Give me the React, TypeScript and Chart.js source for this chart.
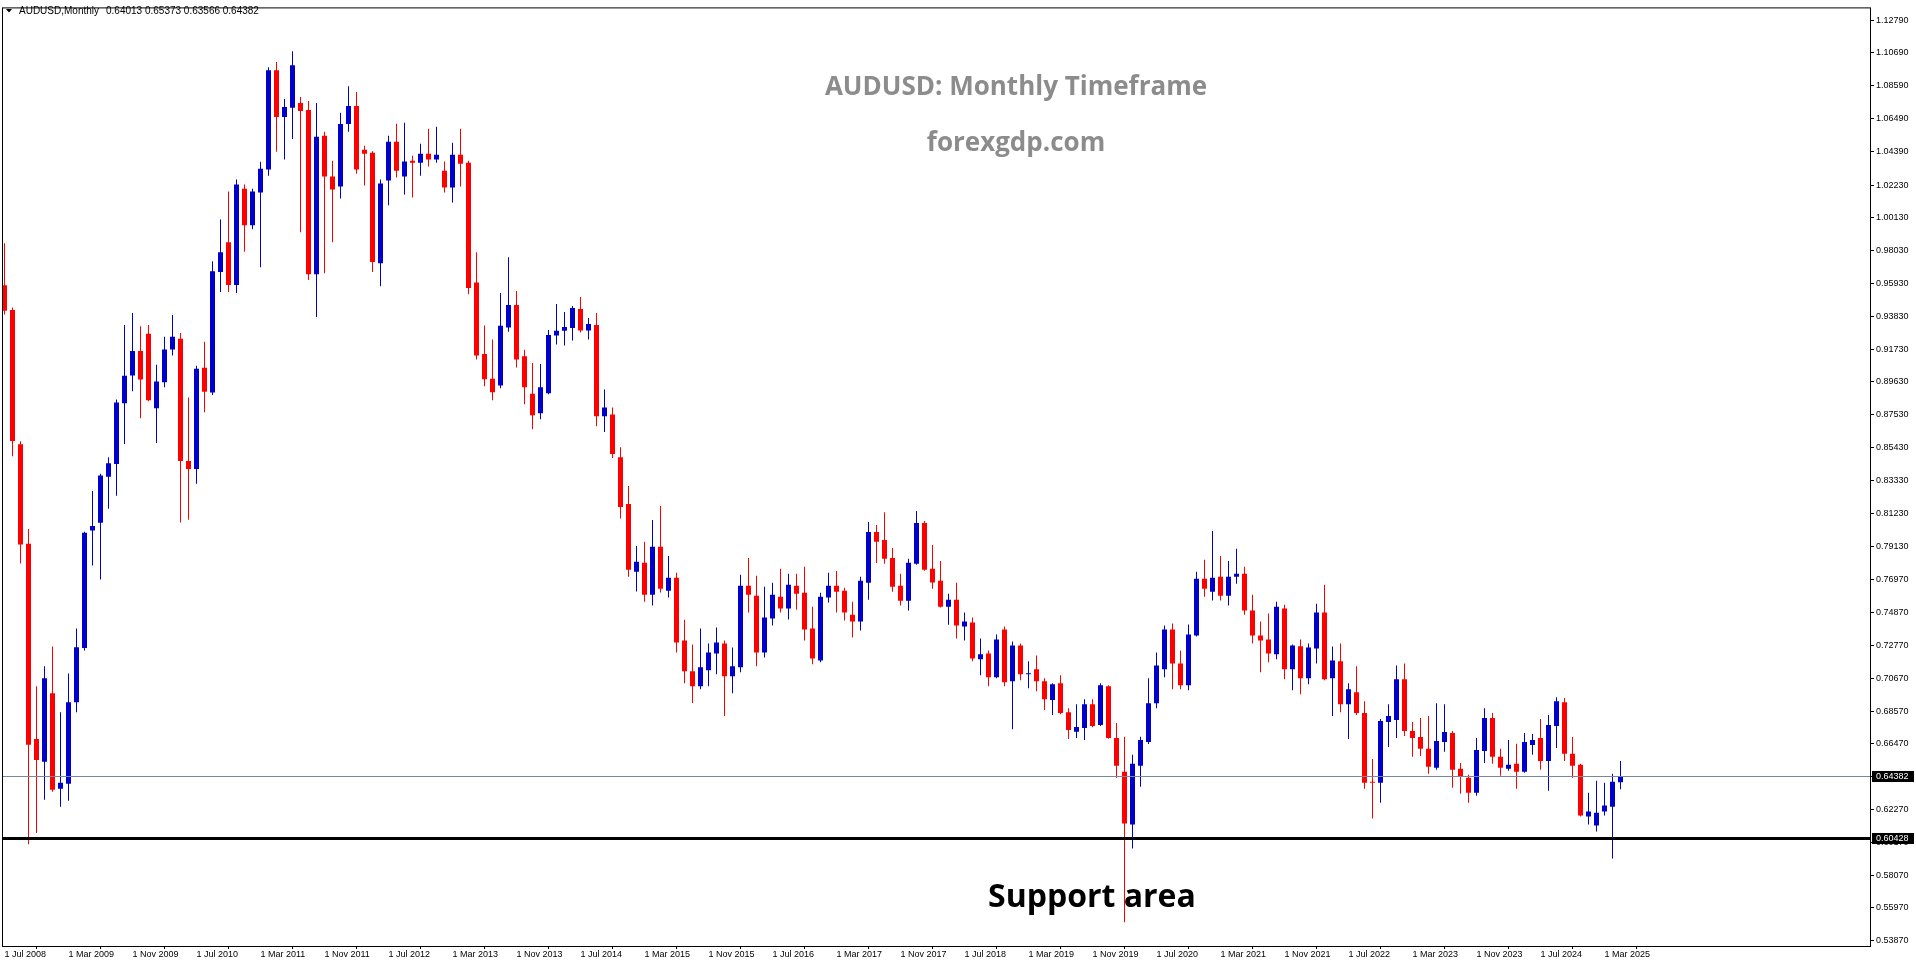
import React, { useEffect, useRef } from "react";
import { Chart, registerables } from "chart.js";

Chart.register(...registerables);

// Monthly candles, first = Jul 2008, last = May 2025
const OPEN = [
  0.9582, 0.9424, 0.8564, 0.7927, 0.6678, 0.6532, 0.6971, 0.6360, 0.6392, 0.6914,
  0.7260, 0.8013, 0.8062, 0.8356, 0.8438, 0.8827, 0.9004, 0.9161, 0.9271, 0.8795,
  0.8961, 0.9171, 0.9239, 0.8457, 0.8406, 0.9054, 0.8895, 0.9666, 0.9857, 0.9583,
  1.0200, 0.9966, 1.0175, 1.0322, 1.0958, 1.0659, 1.0717, 1.0748, 1.0704, 0.9653,
  1.0538, 1.0277, 1.0213, 1.0614, 1.0729, 1.0449, 1.0430, 0.9723, 1.0252, 1.0500,
  1.0277, 1.0379, 1.0366, 1.0424, 1.0386, 1.0315, 1.0207, 1.0417, 1.0366, 0.9600,
  0.9142, 0.8984, 0.8941, 0.9311, 0.9455, 0.9128, 0.8888, 0.8763, 0.8890, 0.9261,
  0.9290, 0.9309, 0.9430, 0.9292, 0.9328, 0.8744, 0.8755, 0.8481, 0.8182, 0.7749,
  0.7806, 0.7602, 0.7908, 0.7627, 0.7710, 0.7308, 0.7111, 0.7016, 0.7118, 0.7226,
  0.7290, 0.7080, 0.7137, 0.7659, 0.7595, 0.7232, 0.7449, 0.7589, 0.7513, 0.7659,
  0.7614, 0.7385, 0.7181, 0.7583, 0.7659, 0.7627, 0.7474, 0.7430, 0.7678, 0.8003,
  0.7952, 0.7837, 0.7659, 0.7563, 0.7799, 0.8060, 0.7768, 0.7691, 0.7525, 0.7570,
  0.7398, 0.7423, 0.7188, 0.7226, 0.7073, 0.7379, 0.7047, 0.7277, 0.7092, 0.7124,
  0.7047, 0.6927, 0.7035, 0.6850, 0.6724, 0.6748, 0.6901, 0.6767, 0.7016, 0.6684,
  0.6469, 0.6131, 0.6507, 0.6659, 0.6907, 0.7124, 0.7379, 0.7162, 0.7022, 0.7341,
  0.7704, 0.7621, 0.7716, 0.7595, 0.7716, 0.7735, 0.7500, 0.7341, 0.7315, 0.7220,
  0.7513, 0.7124, 0.7271, 0.7067, 0.7258, 0.7487, 0.7067, 0.7175, 0.6901, 0.6978,
  0.6844, 0.6404, 0.6398, 0.6787, 0.6799, 0.7060, 0.6729, 0.6691, 0.6615, 0.6494,
  0.6659, 0.6716, 0.6487, 0.6430, 0.6334, 0.6602, 0.6812, 0.6564, 0.6487, 0.6519,
  0.6468, 0.6640, 0.6685, 0.6538, 0.6761, 0.6914, 0.6583, 0.6513, 0.6182, 0.6124,
  0.6214, 0.6245, 0.64013,
];

const HIGH = [
  0.9850, 0.9440, 0.8583, 0.8022, 0.7015, 0.7143, 0.7270, 0.6850, 0.7097, 0.7386,
  0.8005, 0.8265, 0.8375, 0.8481, 0.8850, 0.9328, 0.9404, 0.9320, 0.9328, 0.9073,
  0.9252, 0.9392, 0.9277, 0.8863, 0.9067, 0.9220, 0.9736, 1.0003, 1.0181, 1.0258,
  1.0226, 1.0200, 1.0372, 1.0977, 1.1010, 1.0774, 1.1079, 1.0787, 1.0761, 1.0748,
  1.0564, 1.0379, 1.0685, 1.0856, 1.0818, 1.0475, 1.0440, 1.0258, 1.0538, 1.0615,
  1.0621, 1.0411, 1.0488, 1.0583, 1.0596, 1.0373, 1.0494, 1.0583, 1.0379, 0.9793,
  0.9324, 0.9235, 0.9532, 0.9761, 0.9545, 0.9169, 0.9085, 0.9078, 0.9296, 0.9462,
  0.9411, 0.9449, 0.9506, 0.9372, 0.9404, 0.8914, 0.8799, 0.8545, 0.8297, 0.7914,
  0.7940, 0.8080, 0.8169, 0.7850, 0.7742, 0.7442, 0.7283, 0.7385, 0.7289, 0.7391,
  0.7309, 0.7264, 0.7729, 0.7837, 0.7723, 0.7653, 0.7678, 0.7767, 0.7735, 0.7735,
  0.7780, 0.7525, 0.7614, 0.7742, 0.7754, 0.7646, 0.7557, 0.7716, 0.8067, 0.8048,
  0.8130, 0.7901, 0.7735, 0.7831, 0.8137, 0.8073, 0.7920, 0.7818, 0.7608, 0.7678,
  0.7487, 0.7455, 0.7322, 0.7245, 0.7347, 0.7398, 0.7302, 0.7290, 0.7175, 0.7213,
  0.7067, 0.7035, 0.7086, 0.6875, 0.6901, 0.6933, 0.6933, 0.7035, 0.7022, 0.6780,
  0.6692, 0.6577, 0.6692, 0.7067, 0.7232, 0.7404, 0.7417, 0.7245, 0.7411, 0.7748,
  0.7825, 0.8010, 0.7850, 0.7818, 0.7895, 0.7780, 0.7602, 0.7430, 0.7481, 0.7557,
  0.7538, 0.7283, 0.7315, 0.7290, 0.7544, 0.7666, 0.7270, 0.7290, 0.7035, 0.7143,
  0.6920, 0.6550, 0.6806, 0.6901, 0.7149, 0.7162, 0.6787, 0.6812, 0.6825, 0.6907,
  0.6901, 0.6729, 0.6525, 0.6449, 0.6684, 0.6875, 0.6844, 0.6615, 0.6672, 0.6647,
  0.6716, 0.6710, 0.6806, 0.6831, 0.6946, 0.6940, 0.6691, 0.6519, 0.6334, 0.6411,
  0.6398, 0.6455, 0.65373,
];

const LOW = [
  0.9394, 0.8487, 0.7802, 0.6004, 0.6076, 0.6290, 0.6341, 0.6245, 0.6283, 0.6850,
  0.7245, 0.7788, 0.7699, 0.8152, 0.8234, 0.8566, 0.8903, 0.8731, 0.8840, 0.8572,
  0.8929, 0.9132, 0.8063, 0.8082, 0.8311, 0.8769, 0.8880, 0.9538, 0.9538, 0.9532,
  0.9797, 0.9940, 0.9697, 1.0283, 1.0436, 1.0386, 1.0518, 0.9921, 0.9615, 0.9379,
  0.9659, 0.9857, 1.0137, 1.0564, 1.0296, 1.0220, 0.9666, 0.9576, 1.0093, 1.0271,
  1.0162, 1.0143, 1.0283, 1.0341, 1.0366, 1.0175, 1.0111, 1.0213, 0.9525, 0.9107,
  0.8935, 0.8846, 0.8922, 0.9285, 0.9056, 0.8821, 0.8661, 0.8725, 0.8885, 0.9203,
  0.9197, 0.9229, 0.9279, 0.9235, 0.8680, 0.8642, 0.8476, 0.8090, 0.7717, 0.7622,
  0.7557, 0.7532, 0.7615, 0.7583, 0.7232, 0.7035, 0.6908, 0.6997, 0.7016, 0.7092,
  0.6826, 0.6971, 0.7105, 0.7487, 0.7143, 0.7200, 0.7404, 0.7487, 0.7443, 0.7506,
  0.7309, 0.7156, 0.7170, 0.7551, 0.7487, 0.7436, 0.7328, 0.7373, 0.7570, 0.7805,
  0.7799, 0.7621, 0.7532, 0.7500, 0.7793, 0.7755, 0.7640, 0.7520, 0.7410, 0.7321,
  0.7309, 0.7175, 0.7086, 0.7016, 0.7067, 0.7016, 0.6741, 0.7054, 0.7003, 0.6984,
  0.6863, 0.6831, 0.6837, 0.6678, 0.6684, 0.6672, 0.6754, 0.6761, 0.6680, 0.6430,
  0.5506, 0.5978, 0.6373, 0.6646, 0.6875, 0.7073, 0.6996, 0.6996, 0.6990, 0.7334,
  0.7589, 0.7564, 0.7564, 0.7532, 0.7672, 0.7474, 0.7290, 0.7105, 0.7169, 0.7188,
  0.7060, 0.6990, 0.6965, 0.7028, 0.7162, 0.7054, 0.6826, 0.6850, 0.6678, 0.6831,
  0.6360, 0.6169, 0.6271, 0.6627, 0.6684, 0.6697, 0.6564, 0.6570, 0.6455, 0.6481,
  0.6596, 0.6366, 0.6328, 0.6270, 0.6315, 0.6525, 0.6519, 0.6443, 0.6475, 0.6360,
  0.6462, 0.6577, 0.6481, 0.6347, 0.6621, 0.6538, 0.6430, 0.6182, 0.6131, 0.6086,
  0.6188, 0.5914, 0.63566,
];

const CLOSE = [
  0.9419, 0.8585, 0.7923, 0.6641, 0.6544, 0.7067, 0.6354, 0.6398, 0.6914, 0.7265,
  0.7998, 0.8041, 0.8365, 0.8443, 0.8831, 0.9002, 0.9161, 0.8978, 0.8846, 0.8966,
  0.9170, 0.9252, 0.8457, 0.8406, 0.9048, 0.8901, 0.9672, 0.9793, 0.9583, 1.0226,
  0.9966, 1.0181, 1.0328, 1.0958, 1.0659, 1.0723, 1.0990, 1.0697, 0.9653, 1.0532,
  1.0277, 1.0194, 1.0614, 1.0729, 1.0322, 1.0424, 0.9730, 1.0233, 1.0500, 1.0315,
  1.0373, 1.0366, 1.0424, 1.0386, 1.0417, 1.0207, 1.0417, 1.0360, 0.9564, 0.9133,
  0.8980, 0.8897, 0.9322, 0.9455, 0.9106, 0.8929, 0.8750, 0.8929, 0.9264, 0.9290,
  0.9315, 0.9436, 0.9292, 0.9334, 0.8744, 0.8799, 0.8502, 0.8163, 0.7762, 0.7813,
  0.7602, 0.7908, 0.7640, 0.7710, 0.7296, 0.7111, 0.7016, 0.7137, 0.7232, 0.7296,
  0.7080, 0.7143, 0.7659, 0.7602, 0.7232, 0.7455, 0.7602, 0.7513, 0.7665, 0.7608,
  0.7379, 0.7194, 0.7589, 0.7659, 0.7621, 0.7487, 0.7430, 0.7691, 0.8003, 0.7940,
  0.7831, 0.7653, 0.7563, 0.7806, 0.8060, 0.7762, 0.7679, 0.7525, 0.7570, 0.7404,
  0.7430, 0.7194, 0.7220, 0.7073, 0.7315, 0.7041, 0.7277, 0.7092, 0.7098, 0.7047,
  0.6933, 0.7028, 0.6844, 0.6735, 0.6755, 0.6901, 0.6761, 0.7022, 0.6684, 0.6507,
  0.6137, 0.6519, 0.6672, 0.6907, 0.7149, 0.7379, 0.7162, 0.7022, 0.7347, 0.7704,
  0.7640, 0.7710, 0.7595, 0.7716, 0.7735, 0.7500, 0.7341, 0.7309, 0.7226, 0.7525,
  0.7124, 0.7277, 0.7067, 0.7264, 0.7487, 0.7060, 0.7181, 0.6901, 0.6997, 0.6844,
  0.6398, 0.6398, 0.6793, 0.6825, 0.7060, 0.6729, 0.6684, 0.6615, 0.6500, 0.6666,
  0.6723, 0.6481, 0.6436, 0.6334, 0.6608, 0.6812, 0.6564, 0.6494, 0.6513, 0.6468,
  0.6659, 0.6672, 0.6538, 0.6767, 0.6920, 0.6583, 0.6507, 0.6188, 0.6214, 0.6207,
  0.6252, 0.6405, 0.64382,
];

// x-axis labels, one every 8 monthly bars from the first bar
const X_TICK_LABELS = [
  "1 Jul 2008", "1 Mar 2009", "1 Nov 2009", "1 Jul 2010", "1 Mar 2011", "1 Nov 2011",
  "1 Jul 2012", "1 Mar 2013", "1 Nov 2013", "1 Jul 2014", "1 Mar 2015", "1 Nov 2015",
  "1 Jul 2016", "1 Mar 2017", "1 Nov 2017", "1 Jul 2018", "1 Mar 2019", "1 Nov 2019",
  "1 Jul 2020", "1 Mar 2021", "1 Nov 2021", "1 Jul 2022", "1 Mar 2023", "1 Nov 2023",
  "1 Jul 2024", "1 Mar 2025",
];
const X_TICK_STEP = 8;

const Y_TICKS = [
  1.1279, 1.1069, 1.0859, 1.0649, 1.0439, 1.0223, 1.0013, 0.9803, 0.9593, 0.9383,
  0.9173, 0.8963, 0.8753, 0.8543, 0.8333, 0.8123, 0.7913, 0.7697, 0.7487, 0.7277,
  0.7067, 0.6857, 0.6647, 0.6437, 0.6227, 0.6017, 0.5807, 0.5597, 0.5387,
];

const CURRENT_PRICE = 0.64382;
const SUPPORT_PRICE = 0.60428;
const HEADER_SYMBOL = "AUDUSD,Monthly";
const HEADER_VALUES = "0.64013 0.65373 0.63566 0.64382";
const TITLE = "AUDUSD: Monthly Timeframe";
const SUBTITLE = "forexgdp.com";
const NOTE = "Support area";

const BULL = "#0000CD";
const BEAR = "#FF0000";
const AXIS_FONT = "'Liberation Sans', Arial, sans-serif";

const overlayPlugin = {
  id: "overlay",
  beforeDatasetsDraw(chart: any) {
    const { ctx } = chart;
    ctx.save();
    ctx.fillStyle = "#8c8c8c";
    ctx.font = "bold 26px 'Open Sans', 'Liberation Sans', sans-serif";
    ctx.textAlign = "center";
    ctx.textBaseline = "middle";
    ctx.fillText(TITLE, 1016, 88);
    ctx.fillText(SUBTITLE, 1016, 144);
    ctx.fillStyle = "#000";
    ctx.font = "bold 32px 'Open Sans', 'Liberation Sans', sans-serif";
    ctx.textAlign = "left";
    ctx.textBaseline = "alphabetic";
    ctx.fillText(NOTE, 988, 907);
    ctx.restore();
  },
  afterDatasetsDraw(chart: any) {
    const { ctx, chartArea: a, scales } = chart;
    const ys = scales.y;
    ctx.save();
    const yc = Math.round(ys.getPixelForValue(CURRENT_PRICE)) + 0.5;
    ctx.strokeStyle = "#778899";
    ctx.lineWidth = 1;
    ctx.beginPath();
    ctx.moveTo(a.left, yc);
    ctx.lineTo(a.right, yc);
    ctx.stroke();
    const ysp = Math.round(ys.getPixelForValue(SUPPORT_PRICE)) + 0.5;
    ctx.strokeStyle = "#000";
    ctx.lineWidth = 3;
    ctx.beginPath();
    ctx.moveTo(a.left, ysp);
    ctx.lineTo(a.right, ysp);
    ctx.stroke();
    ctx.restore();
  },
  afterDraw(chart: any) {
    const { ctx, chartArea: a, scales } = chart;
    const ys = scales.y;
    ctx.save();
    ctx.strokeStyle = "#000";
    ctx.lineWidth = 1;
    ctx.strokeRect(a.left + 0.5, a.top + 0.5, a.right - a.left, a.bottom - a.top);
    // header
    ctx.fillStyle = "#000";
    ctx.beginPath();
    ctx.moveTo(6, 9);
    ctx.lineTo(12, 9);
    ctx.lineTo(9, 12.5);
    ctx.closePath();
    ctx.fill();
    ctx.font = "10px " + AXIS_FONT;
    ctx.textAlign = "left";
    ctx.textBaseline = "middle";
    ctx.fillText(HEADER_SYMBOL, 19, 11);
    ctx.fillText(HEADER_VALUES, 106, 11);
    // price boxes on axis
    ctx.font = "9px " + AXIS_FONT;
    const box = (price: number) => {
      const y = Math.round(ys.getPixelForValue(price));
      ctx.fillStyle = "#000";
      ctx.fillRect(a.right + 2, y - 5, 42, 11);
      ctx.fillStyle = "#fff";
      ctx.fillText(price.toFixed(5), a.right + 6, y + 0.5);
    };
    box(CURRENT_PRICE);
    box(SUPPORT_PRICE);
    ctx.restore();
  },
};

export default function App() {
  const canvasRef = useRef<HTMLCanvasElement | null>(null);

  useEffect(() => {
    if (!canvasRef.current) return;
    const colors = CLOSE.map((c, i) => (c >= OPEN[i] ? BULL : BEAR));
    const bodies = OPEN.map((o, i) => ({ x: i, y: [o, CLOSE[i]] }));
    const wicks = LOW.map((l, i) => ({ x: i, y: [l, HIGH[i]] }));

    const chart = new Chart(canvasRef.current, {
      type: "bar",
      data: {
        datasets: [
          {
            data: bodies as any,
            backgroundColor: colors,
            barThickness: 5,
            grouped: false,
            minBarLength: 1,
            inflateAmount: 0,
            borderWidth: 0,
          } as any,
          {
            data: wicks as any,
            backgroundColor: colors,
            barThickness: 1,
            grouped: false,
            minBarLength: 1,
            inflateAmount: 0,
            borderWidth: 0,
          } as any,
        ],
      },
      options: {
        animation: false,
        responsive: true,
        maintainAspectRatio: false,
        devicePixelRatio: 1,
        events: [],
        layout: { padding: { left: 2, top: 3, right: 0, bottom: 0 } },
        plugins: { legend: { display: false }, tooltip: { enabled: false } },
        scales: {
          x: {
            type: "linear",
            offset: false,
            bounds: "data",
            min: -0.3125,
            max: 233.1875,
            afterBuildTicks: (s: any) => {
              s.ticks = X_TICK_LABELS.map((_, i) => ({ value: i * X_TICK_STEP }));
            },
            afterFit: (s: any) => {
              s.height = 18;
            },
            ticks: {
              autoSkip: false,
              maxRotation: 0,
              align: "start",
              padding: 0,
              color: "#000",
              font: { family: AXIS_FONT, size: 9 },
              callback: (_v: any, i: number) => X_TICK_LABELS[i],
            },
            grid: { drawOnChartArea: false, drawTicks: true, tickLength: 3, color: "#000" },
            border: { display: false },
          },
          y: {
            type: "linear",
            position: "right",
            bounds: "data",
            min: 0.53535,
            max: 1.13599,
            afterBuildTicks: (s: any) => {
              s.ticks = Y_TICKS.map((v) => ({ value: v }));
            },
            afterFit: (s: any) => {
              s.width = 46;
            },
            ticks: {
              autoSkip: false,
              padding: 2,
              color: "#000",
              font: { family: AXIS_FONT, size: 9 },
              callback: (v: any) => Number(v).toFixed(5),
            },
            grid: { drawOnChartArea: false, drawTicks: true, tickLength: 4, color: "#000" },
            border: { display: false },
          },
        },
      },
      plugins: [overlayPlugin],
    } as any);

    return () => chart.destroy();
  }, []);

  return (
    <div style={{ position: "fixed", left: 0, top: 0, width: 1916, height: 964, background: "#fff" }}>
      <canvas ref={canvasRef} />
    </div>
  );
}
